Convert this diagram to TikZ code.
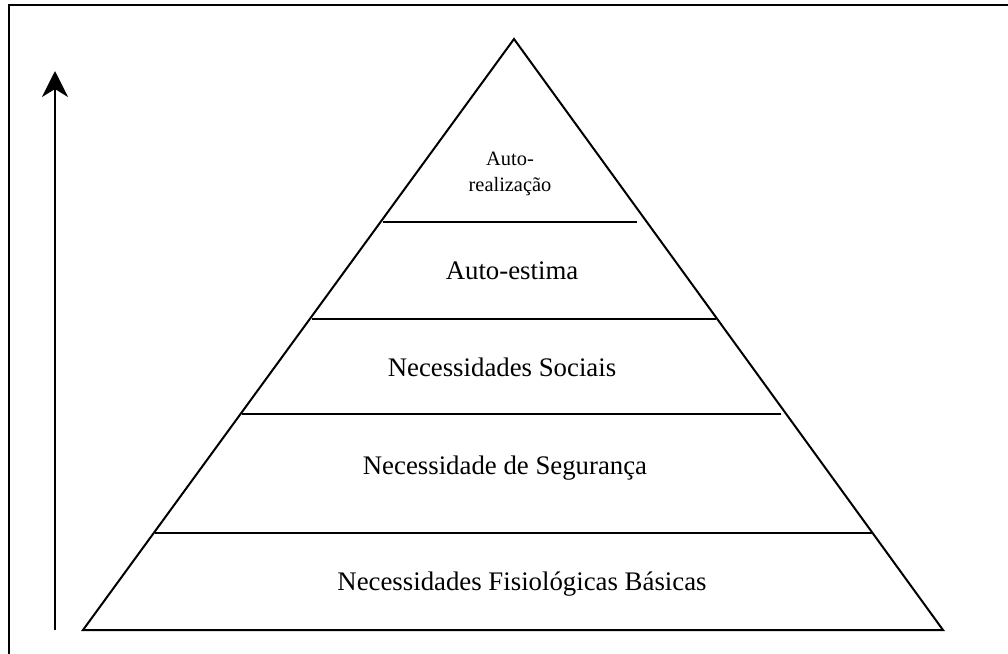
\documentclass[tikz,border=0pt]{standalone}
\usepackage{fontspec}
\setmainfont{Liberation Serif}
\usetikzlibrary{arrows.meta}
\begin{document}
\begin{tikzpicture}[x=0.5pt,y=-0.5pt,
  edge/.style={line width=1pt,black},
  tier/.style={line width=1.1pt,black},
  level/.style={font=\fontsize{13.4}{15}\selectfont,align=center,inner sep=0pt},
  toplevel/.style={font=\fontsize{10.2}{13}\selectfont,align=center,inner sep=0pt}]
  \useasboundingbox (0,0) rectangle (1008,654);
  % frame (runs past the page on the right and bottom)
  \draw[line width=0.8pt] (9,700) -- (9,5) -- (1060,5);
  % rising arrow
  \coordinate (arrowfoot) at (55,630);
  \coordinate (arrowtip) at (55,71);
  \draw[line width=0.8pt,-{Stealth[length=13pt,width=13pt,inset=4pt]}] (arrowfoot) -- (arrowtip);
  % pyramid outline
  \coordinate (apex) at (514,39);
  \coordinate (bl) at (83,630);
  \coordinate (br) at (943,630);
  \draw[edge,line join=miter] (apex) -- (bl) -- (br) -- cycle;
  % dividing lines between the levels
  \coordinate (d1l) at (383,222); \coordinate (d1r) at (637,222);
  \coordinate (d2l) at (312,319); \coordinate (d2r) at (716,319);
  \coordinate (d3l) at (242,414); \coordinate (d3r) at (781,414);
  \coordinate (d4l) at (155,533); \coordinate (d4r) at (873,533);
  \draw[tier] (d1l) -- (d1r);
  \draw[tier] (d2l) -- (d2r);
  \draw[tier] (d3l) -- (d3r);
  \draw[tier] (d4l) -- (d4r);
  % level labels
  \node[toplevel] (l5) at (510,174) {Auto-\\realização};
  \node[level] (l4) at (512,271) {Auto-estima};
  \node[level] (l3) at (502,367) {Necessidades Sociais};
  \node[level] (l2) at (505,468) {Necessidade de Segurança};
  \node[level] (l1) at (522,584) {Necessidades Fisiológicas Básicas};
\end{tikzpicture}
\end{document}
